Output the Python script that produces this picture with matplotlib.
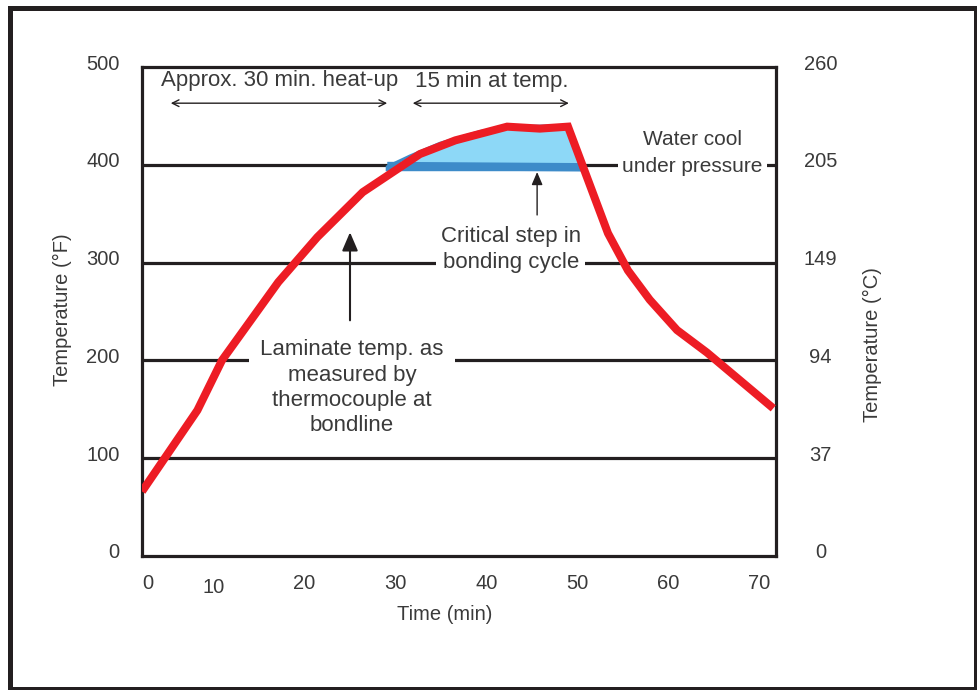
import numpy as np
import matplotlib.pyplot as plt
from matplotlib.patches import Polygon, Rectangle
import matplotlib.transforms as mtrans

plt.rcParams['font.family'] = ['Liberation Sans', 'DejaVu Sans']

# laminate temperature at the bondline
time_min = [2.1, 8.2, 10.9, 17.1, 21.4, 26.4, 32.7, 36.6, 42.3, 45.9, 49.0,
            53.4, 55.6, 58.0, 61.0, 64.3, 71.6]
temp_f = [66, 149, 200, 280, 326, 372, 411, 425, 439, 437, 439,
          330, 292, 262, 231, 208, 151]

# critical step region (outline)
zone_t = [29.1, 31.6, 34.9, 39.3, 42.3, 49.0, 50.9, 29.1]
zone_f = [398, 409, 422, 434, 439, 440, 395, 395]

grid_f = [100, 200, 300, 400]
yticks_f = [0, 100, 200, 300, 400, 500]
yticks_c = ['0', '37', '94', '149', '205', '260']
xticks = [0, 10, 20, 30, 40, 50, 60, 70]

ink = '#231f20'
txt = '#3a3a3a'
fs = 14.5
fa = 16

fig = plt.figure(figsize=(9.78, 6.9), dpi=100)
ax = fig.add_axes([142/978, 1-556/690, 634/978, 489/690])
ax.set_xlim(2.1, 71.9)
ax.set_ylim(0, 500)

# horizontal lines
for f in grid_f:
    ax.axhline(f, color=ink, lw=2.3, zorder=1)

# critical step area
ax.add_patch(Polygon(np.column_stack([zone_t, zone_f]), closed=True,
                     fc='#8dd8f7', ec='#3d8bc9', lw=2.2, joinstyle='miter', zorder=2))
ax.plot([zone_t[0], zone_t[6]], [398.8, 397.5], color='#3d8bc9', lw=6,
        solid_capstyle='butt', zorder=2)

# temperature curve
ax.plot(time_min, temp_f, color='#ed1c24', lw=5.8, solid_joinstyle='miter',
        solid_capstyle='butt', zorder=6)

# arrows
ax.annotate('', xy=(4.96, 463), xytext=(29.4, 463),
            arrowprops=dict(arrowstyle='<->', color=ink, lw=1, mutation_scale=12))
ax.annotate('', xy=(31.6, 463), xytext=(49.4, 463),
            arrowprops=dict(arrowstyle='<->', color=ink, lw=1, mutation_scale=12))
ax.annotate('', xy=(25.0, 331), xytext=(25.0, 241),
            arrowprops=dict(arrowstyle='-|>,head_width=0.3,head_length=0.7', color=ink,
                            lw=1.5, mutation_scale=16, shrinkA=0, shrinkB=0), zorder=3)
ax.annotate('', xy=(45.6, 392.6), xytext=(45.6, 348.7),
            arrowprops=dict(arrowstyle='-|>,head_width=0.3,head_length=0.7', color=ink,
                            lw=1, mutation_scale=11, shrinkA=0, shrinkB=0), zorder=3)

# labels
ax.text(17.3, 485.7, 'Approx. 30 min. heat-up', ha='center', va='center',
        fontsize=fa, color=txt)
ax.text(40.6, 484.7, '15 min at temp.', ha='center', va='center',
        fontsize=fa, color=txt)
ax.text(62.7, 412, 'Water cool\nunder pressure', ha='center', va='center',
        fontsize=15, color=txt, linespacing=1.55, zorder=4,
        bbox=dict(fc='white', ec='none', pad=3))
ax.text(42.7, 313, 'Critical step in\nbonding cycle', ha='center', va='center',
        fontsize=fa, color=txt, linespacing=1.32, zorder=4,
        bbox=dict(fc='white', ec='none', pad=3))
ax.text(25.2, 171.8, 'Laminate temp. as\nmeasured by\nthermocouple at\nbondline',
        ha='center', va='center', fontsize=fa, color=txt, linespacing=1.27, zorder=4,
        bbox=dict(fc='white', ec='none', pad=8))

# frame
for s in ax.spines.values():
    s.set_linewidth(2.3)
    s.set_color(ink)

# ticks
xpos = [max(v, 2.7) for v in xticks]
ax.set_xticks(xpos, [str(v) for v in xticks])
ax.set_yticks(yticks_f, [str(v) for v in yticks_f])
ax.tick_params(axis='x', length=0, pad=13, labelsize=fs, labelcolor=txt)
ax.tick_params(axis='y', length=0, pad=16, labelsize=fs, labelcolor=txt)
up = mtrans.ScaledTranslation(0, 0.05, fig.dpi_scale_trans)
for lab in ax.get_yticklabels():
    lab.set_transform(lab.get_transform() + up)
down = mtrans.ScaledTranslation(0, -0.04, fig.dpi_scale_trans)
lab10 = ax.get_xticklabels()[1]
lab10.set_transform(lab10.get_transform() + down)

ax2 = ax.twinx()
ax2.set_ylim(0, 500)
ax2.set_yticks(yticks_f, yticks_c)
ax2.tick_params(axis='y', length=0, pad=32, labelsize=fs, labelcolor=txt)
for lab in ax2.get_yticklabels():
    lab.set_horizontalalignment('center')
    lab.set_transform(lab.get_transform() + up)
for s in ax2.spines.values():
    s.set_visible(False)

fig.text(62/978, 1-310/690, 'Temperature (°F)', rotation=90, ha='center', va='center',
         fontsize=fs, color=txt)
fig.text(872/978, 1-345/690, 'Temperature (°C)', rotation=90, ha='center', va='center',
         fontsize=fs, color=txt)
fig.text(445/978, 1-615/690, 'Time (min)', ha='center', va='center',
         fontsize=fs, color=txt)

# outer border
fig.add_artist(Rectangle((9.5/978, 1.5/690), 967/978, 681/690, transform=fig.transFigure,
                         fill=False, lw=3.6, ec=ink))

fig.savefig('out.png', dpi=100)
